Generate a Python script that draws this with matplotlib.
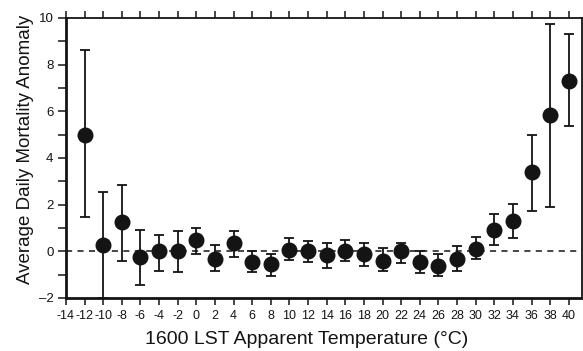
import matplotlib
matplotlib.use("Agg")
import matplotlib.pyplot as plt
from matplotlib.ticker import MultipleLocator
import numpy as np

# temperature bins (deg C) and mortality anomaly with error bounds
temps = [-12, -10, -8, -6, -4, -2, 0, 2, 4, 6, 8, 10, 12, 14, 16, 18, 20,
         22, 24, 26, 28, 30, 32, 34, 36, 38, 40]
anom = [5.0, 0.25, 1.25, -0.25, 0.0, 0.0, 0.48, -0.33, 0.35, -0.46, -0.56,
        0.05, 0.0, -0.17, 0.03, -0.1, -0.42, 0.0, -0.47, -0.63, -0.32,
        0.12, 0.93, 1.3, 3.38, 5.86, 7.3]
upper = [8.63, 2.56, 2.85, 0.92, 0.71, 0.86, 1.0, 0.26, 0.86, 0.02, -0.12,
         0.57, 0.43, 0.36, 0.49, 0.34, 0.13, 0.34, 0.0, -0.1, 0.24,
         0.62, 1.6, 2.04, 4.98, 9.74, 9.31]
lower = [1.45, -2.0, -0.4, -1.45, -0.84, -0.9, -0.1, -0.84, -0.26, -0.9,
         -1.07, -0.39, -0.47, -0.7, -0.4, -0.63, -0.84, -0.49, -0.94, -1.07,
         -0.84, -0.33, 0.26, 0.56, 1.73, 1.9, 5.37]
xticks = list(range(-14, 41, 2))
yticks = list(range(-2, 11, 2))

plt.rcParams['font.family'] = ['Liberation Sans', 'DejaVu Sans']
ink = '#141414'

fig = plt.figure(figsize=(5.83, 3.51), dpi=100)
ax = fig.add_axes([0.113, 0.151, 0.885, 0.798])

anom = np.array(anom)
yerr = [anom - np.array(lower), np.array(upper) - anom]
ax.errorbar(temps, anom, yerr=yerr, fmt='o', color=ink, ms=10.5,
            ecolor=ink, elinewidth=1.3, capsize=3.5, capthick=1.3,
            zorder=3)
ax.axhline(0, color=ink, lw=1.1, ls=(0, (4, 3.5)), zorder=1)

ax.set_xlim(-14, 41.4)
ax.set_ylim(-2, 10)
ax.set_xticks(xticks)
ax.set_xticklabels([str(t) for t in xticks])
ax.set_yticks(yticks)
ax.set_yticklabels([str(v).replace('-', '\u2013') for v in yticks])
ax.yaxis.set_minor_locator(MultipleLocator(1))

ax.tick_params(axis='x', which='both', direction='out', length=5, width=1.1,
               top=True, labelsize=9, pad=4, colors=ink)
ax.tick_params(axis='y', which='both', direction='out', length=6, width=1.1,
               labelsize=9.5, pad=3, colors=ink)

ax.spines['left'].set_linewidth(2)
ax.spines['bottom'].set_linewidth(2)
ax.spines['top'].set_linewidth(1.3)
ax.spines['right'].set_linewidth(1.3)
for s in ax.spines.values():
    s.set_color(ink)

ax.set_xlabel('1600 LST Apparent Temperature (\u00b0C)', fontsize=14,
              color=ink, labelpad=6)
ax.set_ylabel('Average Daily Mortality Anomaly', fontsize=13.5,
              color=ink, labelpad=3)
# labels in the original sit a bit off-centre
ax.xaxis.label.set_x(0.467)
ax.yaxis.label.set_y(0.532)

fig.savefig('out.png', dpi=100)
